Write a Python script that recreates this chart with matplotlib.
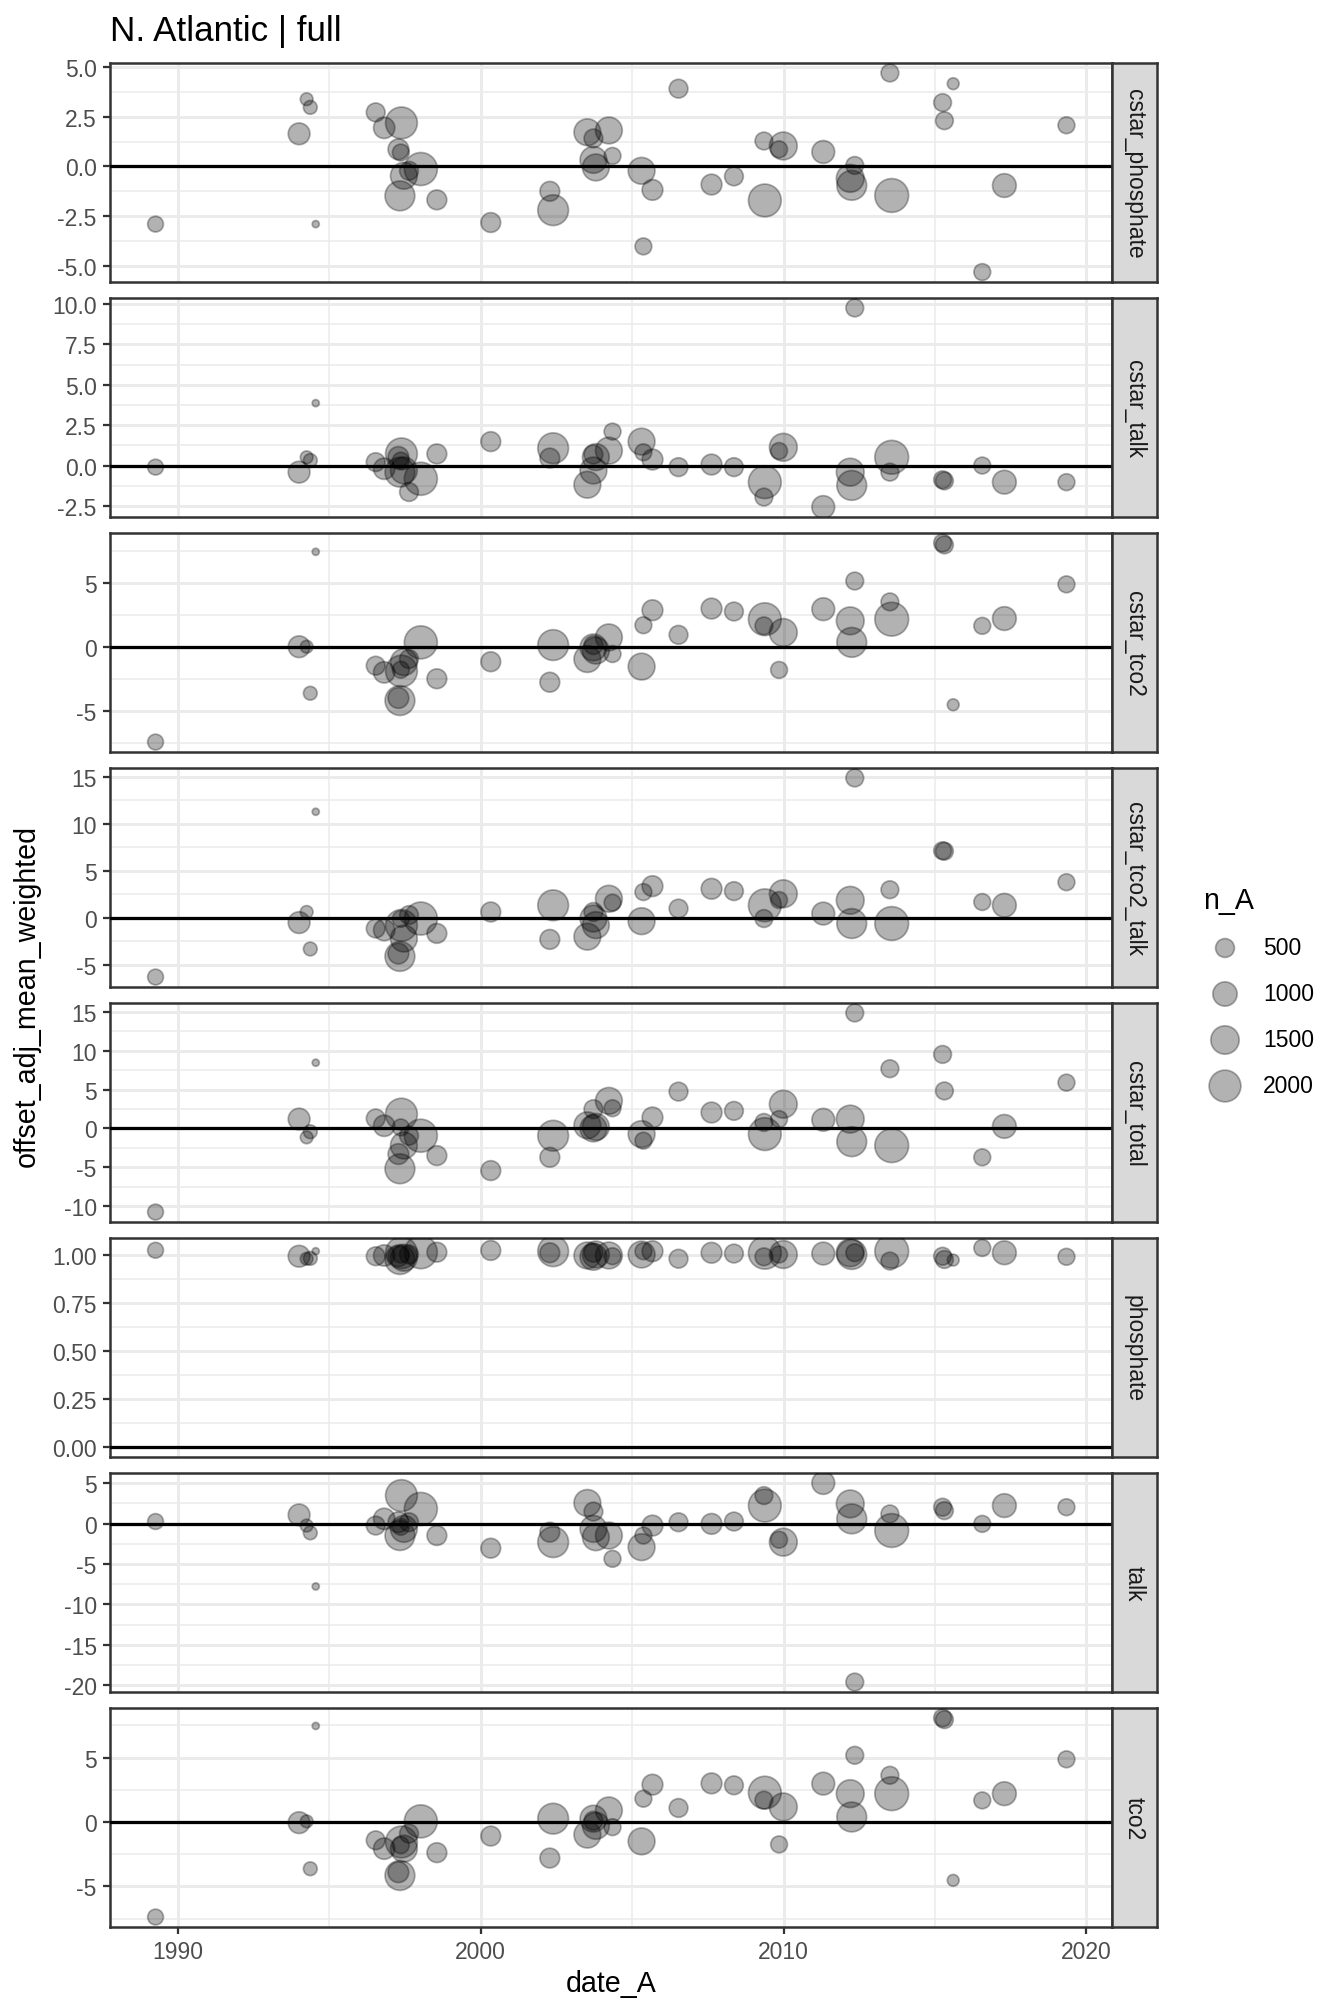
"""Offset per cruise, faceted by parameter (N. Atlantic, full)."""
import matplotlib

matplotlib.use("Agg")
import matplotlib.pyplot as plt
import numpy as np

plt.rcParams["font.family"] = ["Liberation Sans", "DejaVu Sans"]

W, H, DPI = 1344, 2016, 180
nan = np.nan

# one entry per cruise (date, number of samples)
date_A = np.array([
    1989.26, 1994.00, 1994.25, 1994.37, 1994.55,
    1996.53, 1996.81, 1997.38, 1997.28, 1997.36, 1997.46, 1997.33, 1998.02, 1997.63, 1998.55,
    2000.33, 2002.28, 2002.39,
    2003.52, 2003.72, 2004.23, 2004.35, 2003.72, 2003.80,
    2005.31, 2005.67, 2005.37,
    2006.53, 2007.62, 2008.36,
    2009.35, 2009.99, 2009.85, 2009.38,
    2011.31, 2012.20, 2012.25, 2012.35,
    2013.57, 2013.51,
    2015.25, 2015.31, 2015.60,
    2016.56, 2017.29, 2019.34,
])
n_A = np.array([
    300, 740, 160, 200, 60,
    490, 700, 2000, 650, 360, 1290, 1700, 2200, 490, 570,
    570, 570, 1840,
    1290, 490, 1290, 360, 1290, 1290,
    1290, 650, 360,
    490, 650, 490,
    420, 1420, 360, 2160,
    840, 1420, 1700, 420,
    2330, 420,
    420, 420, 130,
    360, 940, 360,
])

cstar_phosphate = [
    -2.9, 1.64, 3.38, 2.97, -2.9,
    2.72, 1.94, 2.19, 0.86, 0.7, -0.47, -1.48, -0.13, -0.22, -1.68,
    -2.82, -1.25, -2.2,
    1.72, 1.41, 1.81, 0.53, 0.33, -0.05,
    -0.22, -1.18, -4.02,
    3.91, -0.91, -0.5,
    1.28, 1.03, 0.86, -1.71,
    0.73, -0.6, -0.95, 0.05,
    -1.46, 4.7,
    3.21, 2.3, 4.16,
    -5.31, -0.96, 2.07,
]
cstar_talk = [
    -0.1, -0.41, 0.51, 0.31, 3.86,
    0.21, -0.2, 0.72, 0.53, 0.3, -0.3, -0.41, -0.82, -1.64, 0.72,
    1.48, 0.46, 1.07,
    -1.19, 0.68, 0.92, 2.1, -0.31, 0.52,
    1.48, 0.37, 0.82,
    -0.1, 0.06, -0.1,
    -1.95, 1.13, 0.9, -1.03,
    -2.57, -0.41, -1.23, 9.75,
    0.51, -0.41,
    -0.88, -0.95, nan,
    0.0, -1.03, -1.03,
]
cstar_tco2 = [
    -7.44, 0.0, 0.0, -3.63, 7.41,
    -1.48, -2.0, -1.9, -4.0, -1.8, -1.2, -4.2, 0.34, -0.96, -2.5,
    -1.17, -2.77, 0.13,
    -0.96, 0.13, 0.73, -0.57, -0.05, -0.3,
    -1.55, 2.85, 1.68,
    0.93, 2.98, 2.75,
    1.63, 1.11, -1.81, 2.15,
    2.93, 2.02, 0.34, 5.13,
    2.15, 3.5,
    8.1, 7.95, -4.53,
    1.63, 2.2, 4.87,
]
cstar_tco2_talk = [
    -6.3, -0.5, 0.63, -3.31, 11.3,
    -1.13, -1.3, -0.8, -3.8, -0.1, -2.2, -4.1, -0.07, 0.3, -1.65,
    0.63, -2.29, 1.34,
    -2.0, 0.63, 2.04, 1.62, -0.07, -0.77,
    -0.35, 3.38, 2.75,
    0.99, 3.1, 2.85,
    -0.07, 2.57, 1.9, 1.34,
    0.46, 1.87, -0.6, 14.9,
    -0.6, 3.0,
    7.15, 7.1, nan,
    1.69, 1.34, 3.8,
]
cstar_total = [
    -10.77, 1.2, -1.15, -0.43, 8.46,
    1.28, 0.34, 1.84, -3.3, 0.13, -2.2, -5.2, -0.94, -0.94, -3.5,
    -5.43, -3.72, -0.94,
    0.4, 2.48, 3.55, 2.6, 0.0, 0.2,
    -0.73, 1.41, -1.58,
    4.74, 2.05, 2.26,
    0.77, 3.12, 1.2, -0.73,
    1.11, 1.2, -1.71, 14.87,
    -2.22, 7.69,
    9.53, 4.83, nan,
    -3.72, 0.26, 5.9,
]
phosphate = [
    1.022, 0.991, 0.978, 0.98, 1.017,
    0.991, 0.995, 1.009, 0.991, 1.0, 0.983, 0.974, 1.012, 1.0, 1.012,
    1.021, 1.009, 1.017,
    0.995, 1.009, 0.995, 0.991, 0.988, 1.0,
    1.0, 1.017, 1.017,
    0.978, 1.009, 1.005,
    0.988, 1.0, 1.0, 1.009,
    1.005, 1.009, 1.0, 1.009,
    1.017, 0.966,
    0.991, 0.974, 0.971,
    1.034, 1.009, 0.988,
]
talk = [
    0.25, 1.07, -0.25, -1.15, -7.78,
    -0.25, 0.58, 3.46, 0.16, -0.4, -0.66, -1.48, 1.81, 0.16, -1.48,
    -3.05, -1.07, -2.3,
    2.55, 1.48, -1.48, -4.36, -0.66, -1.69,
    -2.92, -0.25, -1.48,
    0.16, -0.04, 0.25,
    3.46, -2.3, -2.0, 2.22,
    5.02, 2.43, 0.58, -19.6,
    -0.86, 1.19,
    2.02, 1.6, nan,
    -0.04, 2.22, 2.02,
]
tco2 = [
    -7.38, -0.05, 0.05, -3.63, 7.46,
    -1.42, -2.07, -1.55, -3.9, -1.8, -2.07, -4.15, 0.05, -0.9, -2.38,
    -1.09, -2.8, 0.26,
    -0.98, 0.1, 0.9, -0.4, 0.26, -0.3,
    -1.5, 2.9, 1.81,
    1.09, 3.0, 2.85,
    1.7, 1.17, -1.74, 2.28,
    2.98, 2.2, 0.39, 5.18,
    2.2, 3.63,
    8.08, 7.95, -4.53,
    1.68, 2.2, 4.87,
]

params = ["cstar_phosphate", "cstar_talk", "cstar_tco2", "cstar_tco2_talk",
          "cstar_total", "phosphate", "talk", "tco2"]
offsets = dict(zip(params, [cstar_phosphate, cstar_talk, cstar_tco2, cstar_tco2_talk,
                            cstar_total, phosphate, talk, tco2]))
y_breaks = {
    "cstar_phosphate": ([-5, -2.5, 0, 2.5, 5], 1),
    "cstar_talk": ([-2.5, 0, 2.5, 5, 7.5, 10], 1),
    "cstar_tco2": ([-5, 0, 5], 0),
    "cstar_tco2_talk": ([-5, 0, 5, 10, 15], 0),
    "cstar_total": ([-10, -5, 0, 5, 10, 15], 0),
    "phosphate": ([0, 0.25, 0.5, 0.75, 1.0], 2),
    "talk": ([-20, -15, -10, -5, 0, 5], 0),
    "tco2": ([-5, 0, 5], 0),
}
x_breaks = [1990, 2000, 2010, 2020]
size_breaks = [500, 1000, 1500, 2000]

NMIN, NMAX = n_A.min(), n_A.max()


def diam_pt(n):
    # ggplot scale_size: area palette, range 1..6
    size = 1 + 5 * np.sqrt((np.asarray(n, float) - NMIN) / (NMAX - NMIN))
    return 0.75 * (size * 2.845 + 0.945)


def expand(lo, hi, mult=0.05):
    pad = (hi - lo) * mult
    return lo - pad, hi + pad


def minors(major, lim):
    step = major[1] - major[0]
    cand = [m + step / 2 for m in [major[0] - step] + list(major)]
    return [c for c in cand if lim[0] <= c <= lim[1]]


def fmt(v, dec):
    return f"{v:.{dec}f}"


fig = plt.figure(figsize=(W / DPI, H / DPI), dpi=DPI)
S = 1.04
GRID = "#ebebeb"
DARK = "#333333"

xlim = expand(date_A.min(), date_A.max())
left, right = 110, 1112
pan_h, step = 219, 235
face = (0, 0, 0, 0.3)

for i, p in enumerate(params):
    top = 64 + i * step
    ax = fig.add_axes([left / W, 1 - (top + pan_h) / H, (right - left) / W, pan_h / H])
    vals = np.asarray(offsets[p], float)
    ok = ~np.isnan(vals)
    lo = min(np.nanmin(vals), 0)
    hi = max(np.nanmax(vals), 0)
    ylim = expand(lo, hi)

    ax.scatter(date_A[ok], vals[ok], s=diam_pt(n_A[ok]) ** 2, facecolor=face,
               edgecolor=face, linewidths=0.7, zorder=3)
    ax.axhline(0, color="black", lw=1.3, zorder=4)

    ax.set_xlim(xlim)
    ax.set_ylim(ylim)
    major, dec = y_breaks[p]
    ax.set_yticks(major)
    ax.set_yticklabels([fmt(v, dec) for v in major])
    ax.set_yticks(minors(major, ylim), minor=True)
    ax.set_xticks(x_breaks)
    ax.set_xticks(minors(x_breaks, xlim), minor=True)
    ax.grid(which="major", color=GRID, lw=1.2)
    ax.grid(which="minor", color=GRID, lw=0.6)
    ax.set_axisbelow(True)
    ax.tick_params(which="minor", length=0)
    ax.tick_params(axis="y", which="major", length=2.8, width=0.9, color=DARK,
                   labelcolor="#4d4d4d", labelsize=8.8 * S, pad=2.5)
    if i == len(params) - 1:
        ax.tick_params(axis="x", which="major", length=2.8, width=0.9, color=DARK,
                       labelcolor="#4d4d4d", labelsize=8.8 * S, pad=2.5)
        ax.set_xticklabels([str(x) for x in x_breaks])
    else:
        ax.tick_params(axis="x", which="both", length=0, labelbottom=False)
    for sp in ax.spines.values():
        sp.set_color(DARK)
        sp.set_linewidth(1.0)

    # facet strip on the right
    st = fig.add_axes([right / W, 1 - (top + pan_h) / H, 45 / W, pan_h / H])
    st.set_facecolor("#d9d9d9")
    st.set_xticks([])
    st.set_yticks([])
    for sp in st.spines.values():
        sp.set_color(DARK)
        sp.set_linewidth(1.0)
    st.text(0.5, 0.5, p, rotation=-90, ha="center", va="center",
            fontsize=8.8 * S, color="#1a1a1a", transform=st.transAxes)

fig.text(110 / W, 1 - 41 / H, "N. Atlantic | full", fontsize=14, ha="left",
         va="baseline", color="black")
fig.text(27 / W, 1 - 996 / H, "offset_adj_mean_weighted", rotation=90,
         ha="center", va="center", fontsize=11 * S)
fig.text(611 / W, 1 - 1984 / H, "date_A", ha="center", va="center", fontsize=11 * S)

# size legend
lg = fig.add_axes([0, 0, 1, 1], facecolor="none")
lg.set_xlim(0, W)
lg.set_ylim(H, 0)
lg.axis("off")
lg.text(1203, 901, "n_A", ha="left", va="center", fontsize=11 * S)
key_y = 949 + 46 * np.arange(len(size_breaks))
lg.scatter(np.full(len(size_breaks), 1225), key_y, s=diam_pt(size_breaks) ** 2,
           facecolor=face, edgecolor=face, linewidths=0.7)
for y, b in zip(key_y, size_breaks):
    lg.text(1263, y, str(b), ha="left", va="center", fontsize=8.8 * S)

fig.savefig("out.png", dpi=DPI)
